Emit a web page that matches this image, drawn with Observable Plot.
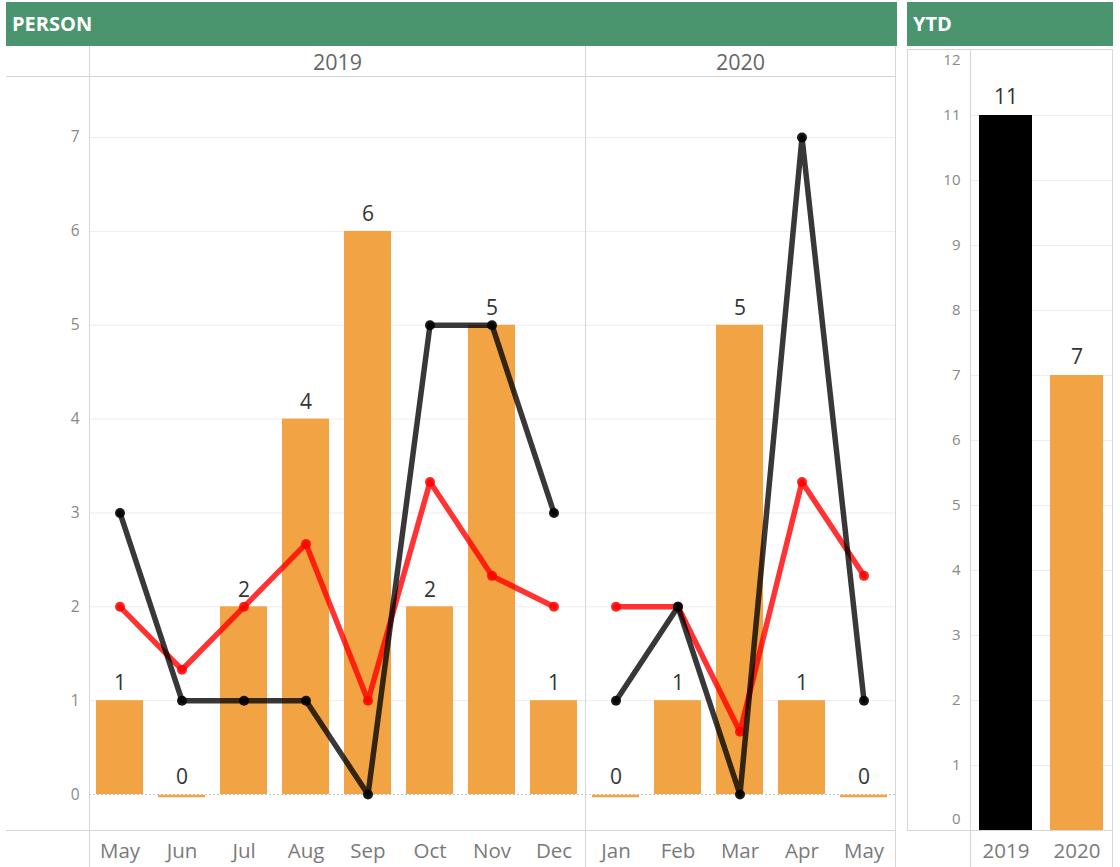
<!DOCTYPE html>
<html><head><meta charset="utf-8">
<script src="https://cdn.jsdelivr.net/npm/d3@7"></script>
<script src="https://cdn.jsdelivr.net/npm/@observablehq/plot@0.6"></script>
<style>
body{margin:0;background:#fff;font-family:"Open Sans",sans-serif;}
#root{position:relative;width:1120px;height:867px;overflow:hidden;}
.hdr{position:absolute;background:#4a946e;color:#fff;font-weight:bold;font-size:20px;line-height:44px;padding-left:6px;box-sizing:border-box;}
.ln{position:absolute;background:#d6d6d6;}
.pl{position:absolute;}
.pl svg{overflow:visible;}
</style></head><body><div id="root"></div>
<script>
// ---- data ----
const months2019 = ["May","Jun","Jul","Aug","Sep","Oct","Nov","Dec"];
const bars2019   = [1, 0, 2, 4, 6, 2, 5, 1];
const black2019  = [3, 1, 1, 1, 0, 5, 5, 3];
const red2019    = [2, 1.33, 2, 2.67, 1, 3.33, 2.33, 2];

const months2020 = ["Jan","Feb","Mar","Apr","May"];
const bars2020   = [0, 1, 5, 1, 0];
const black2020  = [1, 2, 0, 7, 1];
const red2020    = [2, 2, 0.67, 3.33, 2.33];

const ytdYears  = ["2019","2020"];
const ytdValues = [11, 7];

const yTicks   = [0,1,2,3,4,5,6,7];
const ytdTicks = [0,1,2,3,4,5,6,7,8,9,10,11,12];

const ORANGE = "#f2a444";
const FONT = "'Open Sans', sans-serif";

const root = document.getElementById("root");
function add(html){ const d=document.createElement("div"); d.innerHTML=html; while(d.firstChild) root.appendChild(d.firstChild); }
function place(node, left, top){ const w=document.createElement("div"); w.className="pl"; w.style.left=left+"px"; w.style.top=top+"px"; w.appendChild(node); root.appendChild(w); }

// headers
add(`<div class="hdr" style="left:6px;top:2px;width:891px;height:44px;">PERSON</div>`);
add(`<div class="hdr" style="left:907px;top:2px;width:206px;height:44px;">YTD</div>`);

function panel(year, months, bars, blk, red, width, marginLeft, showY){
  const rows = months.map((m,i)=>({year, m, bar:bars[i], blk:blk[i], red:red[i]}));
  const marks = [
    Plot.gridY(yTicks.filter(t=>t>0), {stroke:"#ececec", strokeOpacity:1}),
    Plot.ruleY([0], {stroke:"#c4c4c4", strokeDasharray:"2,2"}),
    Plot.barY(rows.filter(d=>d.bar>0), {fx:"year", x:"m", y:"bar", fill:ORANGE}),
    Plot.tickY(rows.filter(d=>d.bar===0), {fx:"year", x:"m", y:"bar", stroke:ORANGE, strokeWidth:2.5, dy:1.5}),
    Plot.text(rows, {fx:"year", x:"m", y:"bar", text:d=>String(d.bar), dy:-17, fontSize:21, fill:"#333"}),
    Plot.line(rows, {fx:"year", x:"m", y:"red", stroke:"red", strokeWidth:5.5, strokeOpacity:0.8}),
    Plot.dot(rows, {fx:"year", x:"m", y:"red", r:5, fill:"red", fillOpacity:0.85}),
    Plot.line(rows, {fx:"year", x:"m", y:"blk", stroke:"black", strokeWidth:5.5, strokeOpacity:0.78}),
    Plot.dot(rows, {fx:"year", x:"m", y:"blk", r:5, fill:"black", fillOpacity:0.9}),
    Plot.axisX({tickSize:0, tickPadding:13, fontSize:20.5, color:"#7a7a7a", label:null}),
    Plot.axisFx({anchor:"top", tickSize:0, tickPadding:7, fontSize:21.5, color:"#666", label:null})
  ];
  if (showY) marks.push(Plot.axisY(yTicks, {tickSize:0, tickPadding:10, fontSize:15.5, color:"#888", label:null, tickFormat:d=>String(d)}));
  return Plot.plot({
    width, height:821, marginLeft, marginRight:0, marginTop:30, marginBottom:37,
    style:{fontFamily:FONT, background:"transparent", overflow:"visible"},
    fx:{domain:[year], padding:0},
    x:{domain:months, paddingInner:0.24, paddingOuter:0.12},
    y:{domain:[-0.383, 7.65], axis: showY ? undefined : null},
    marks
  });
}

place(panel("2019", months2019, bars2019, black2019, red2019, 579, 83, true), 6, 46);
place(panel("2020", months2020, bars2020, black2020, red2020, 310, 0, false), 585, 46);

// YTD
const ytd = ytdYears.map((y,i)=>({year:y, v:ytdValues[i]}));
const ytdAxis = {tickSize:0, tickPadding:10, fontSize:15, color:"#888", label:null, tickFormat:d=>String(d)};
place(Plot.plot({
  width:206, height:818, marginLeft:63, marginRight:1, marginTop:1, marginBottom:37,
  style:{fontFamily:FONT, background:"transparent", overflow:"visible"},
  x:{domain:ytdYears, paddingInner:0.25, paddingOuter:0.125},
  y:{domain:[0, 12]},
  color:{domain:ytdYears, range:["#000000", ORANGE]},
  marks:[
    Plot.gridY(ytdTicks.filter(t=>t>0 && t<12), {stroke:"#ececec", strokeOpacity:1}),
    Plot.barY(ytd, {x:"year", y:"v", fill:"year"}),
    Plot.text(ytd, {x:"year", y:"v", text:d=>String(d.v), dy:-18, fontSize:21, fill:"#333"}),
    Plot.axisY(ytdTicks.filter(t=>t>0 && t<12), ytdAxis),
    Plot.axisY([12], {...ytdAxis, dy:10}),
    Plot.axisY([0], {...ytdAxis, dy:-11}),
    Plot.axisX({tickSize:0, tickPadding:13, fontSize:20.5, color:"#7a7a7a", label:null})
  ]
}), 907, 49);

// frame lines
add(`<div class="ln" style="left:89px;top:46px;width:1px;height:821px;"></div>`);
add(`<div class="ln" style="left:585px;top:46px;width:1px;height:821px;"></div>`);
add(`<div class="ln" style="left:895px;top:46px;width:1px;height:821px;"></div>`);
add(`<div class="ln" style="left:6px;top:76px;width:890px;height:1px;"></div>`);
add(`<div class="ln" style="left:6px;top:830px;width:890px;height:1px;"></div>`);
add(`<div class="ln" style="left:907px;top:49px;width:206px;height:1px;"></div>`);
add(`<div class="ln" style="left:907px;top:49px;width:1px;height:782px;"></div>`);
add(`<div class="ln" style="left:970px;top:49px;width:1px;height:818px;"></div>`);
add(`<div class="ln" style="left:1112px;top:49px;width:1px;height:818px;"></div>`);
add(`<div class="ln" style="left:907px;top:830px;width:206px;height:1px;"></div>`);
</script>
</body></html>
